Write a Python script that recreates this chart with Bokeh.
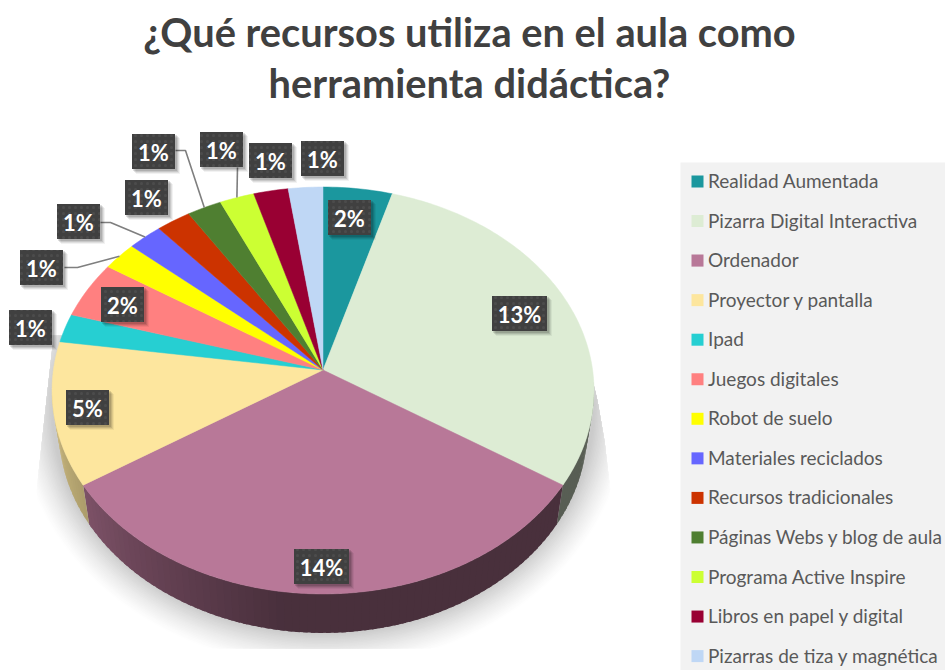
import numpy as np
from bokeh.plotting import figure
from bokeh.models import Range1d
from bokeh.core.properties import value
from bokeh.embed import file_html
from bokeh.resources import INLINE

title_lines = ["¿Qué recursos utiliza en el aula como", "herramienta didáctica?"]
categories = ["Realidad Aumentada", "Pizarra Digital Interactiva", "Ordenador", "Proyector y pantalla",
              "Ipad", "Juegos digitales", "Robot de suelo", "Materiales reciclados",
              "Recursos tradicionales", "Páginas Webs y blog de aula", "Programa Active Inspire",
              "Libros en papel y digital", "Pizarras de tiza y magnética"]
values = [2, 13, 14, 5, 1, 2, 1, 1, 1, 1, 1, 1, 1]
colors = ["#1B979E", "#DDECD4", "#B87898", "#FDE69E", "#26CFD2", "#FF8080", "#FFFF00",
          "#6666FF", "#CC3300", "#4F7F31", "#CCFF33", "#990033", "#BFD7F5"]

# Layout (page pixels)
label_xy = [(349, 217), (519, 313), (321, 566), (87, 407), (30, 327), (122, 304), (41, 267),
            (78, 221), (146, 197), (153, 151), (221, 149), (270, 160), (322, 158)]
leader_elbows = {6: [(64, 267), (77, 267)], 7: [(100, 222), (110, 222)],
                 9: [(175, 150), (185, 150)], 10: [(237, 167)]}
CX, CY, A, B, K = 322.5, 369.5, 201.4, 269.6, 0.1007
DEPTH, BOTTOM_SCALE = 39.0, 0.975


def project(t):
    u, v = np.sin(t), np.cos(t)
    d = 1 + K * v
    return CX + B * u / d, CY - A * v / d


def shade(t_deg):
    return np.interp(t_deg, [0, 188, 237, 270], [0.40, 0.40, 0.68, 0.85])


def scaled(hexcol, f):
    r, g, b = (int(hexcol[i:i + 2], 16) for i in (1, 3, 5))
    return "#%02x%02x%02x" % (int(r * f), int(g * f), int(b * f))


p = figure(width=945, height=670, output_backend="svg", toolbar_location=None,
           x_range=Range1d(0, 945), y_range=Range1d(670, 0), min_border=0)
p.axis.visible = False
p.grid.visible = False
p.outline_line_color = None

# Soft cast shadow
theta = np.linspace(0, 2 * np.pi, 240)
es = np.linspace(35, 0, 24)
sx, sy, sc = [], [], []
for e in es:
    x = CX + (271 + e) * np.cos(theta)
    y = 410 + (223 + e) * np.sin(theta)
    y = np.clip(y, 335, 648)
    left = np.interp(y, [345, 490], [52, 36])
    right = np.interp(y, [322, 400, 440, 490], [578, 597, 604, 610])
    x = np.clip(x, left, right)
    level = int(255 - (255 - 203) * (1 - e / 35) ** 1.3)
    sx.append(x.tolist())
    sy.append(y.tolist())
    sc.append("#%02x%02x%02x" % (level, level, level))
p.patches(sx, sy, fill_color=sc, line_color=None)

# Slices
total = sum(values)
cum = np.cumsum([0] + values) / total * 2 * np.pi

# Side wall
qx, qy, qc = [], [], []
for i, col in enumerate(colors):
    lo, hi = max(cum[i], np.radians(95.8)), min(cum[i + 1], np.radians(264.2))
    if hi <= lo:
        continue
    n = max(2, int(np.degrees(hi - lo) / 1.5))
    ts = np.linspace(lo, hi, n + 1)
    step = ts[1] - ts[0]
    for a in ts[:-1]:
        tt = np.array([a, min(a + step * 1.6, hi)])
        x, y = project(tt)
        xb = CX + (x - CX) * BOTTOM_SCALE
        yb = y + DEPTH
        qx.append([x[0], x[1], xb[1], xb[0]])
        qy.append([y[0], y[1], yb[1], yb[0]])
        qc.append(scaled(col, shade(np.degrees(a + step / 2))))
p.patches(qx, qy, fill_color=qc, line_color=None)

# Top surface
tx, ty = [], []
for i in range(len(values)):
    ts = np.linspace(cum[i], cum[i + 1], max(4, int(np.degrees(cum[i + 1] - cum[i]))))
    x, y = project(ts)
    tx.append([CX] + x.tolist())
    ty.append([CY] + y.tolist())
p.patches(tx, ty, fill_color=colors, line_color=colors, line_width=0.5)

# Leader lines
for i, pts in leader_elbows.items():
    ex, ey = project(np.array([(cum[i] + cum[i + 1]) / 2]))
    p.line([q[0] for q in pts] + [ex[0]], [q[1] for q in pts] + [ey[0]],
           line_color="#7F7F7F", line_width=1.6)

# Data labels
labels = [f"{v}%" for v in values]
lx = [q[0] for q in label_xy]
ly = [q[1] for q in label_xy]
half_w = [27.5 if len(t) > 2 else 21.5 for t in labels]
for off, alpha in ((5, 0.05), (4, 0.08), (3, 0.10), (2, 0.12)):
    p.quad(left=[x - w + off - 1 for x, w in zip(lx, half_w)], right=[x + w + off for x, w in zip(lx, half_w)],
           top=[y - 17.5 + off - 1 for y in ly], bottom=[y + 17.5 + off for y in ly],
           fill_color="#000000", fill_alpha=alpha, line_color=None)
p.quad(left=[x - w for x, w in zip(lx, half_w)], right=[x + w for x, w in zip(lx, half_w)],
       top=[y - 17.5 for y in ly], bottom=[y + 17.5 for y in ly],
       fill_color="#404040", line_color=None,
       hatch_pattern="dot", hatch_color="#4C4C4C", hatch_scale=6, hatch_weight=1)
p.text(lx, [y + 0.5 for y in ly], text=labels, text_font=value("Lato"), text_font_style="bold",
       text_font_size="22px", text_color="#FFFFFF", text_align="center", text_baseline="middle")

# Title
p.text([469, 469], [31, 82], text=title_lines, text_font=value("Lato"), text_font_style="bold",
       text_font_size="39.8px", text_color="#404040", text_align="center", text_baseline="middle")

# Legend
p.quad(left=[680], right=[945], top=[162], bottom=[670], fill_color="#F2F2F2", line_color=None)
rows = np.arange(len(categories))
row_y = 180 + rows * 39.55
p.quad(left=[691] * len(rows), right=[703] * len(rows), top=(row_y - 5).tolist(), bottom=(row_y + 7).tolist(),
       fill_color=colors, line_color=None)
p.text([707.5] * len(rows), row_y.tolist(), text=categories, text_font=value("Lato"), text_font_size="19px",
       text_color="#595959", text_align="left", text_baseline="middle")

open("out.html", "w").write(file_html(p, INLINE))
